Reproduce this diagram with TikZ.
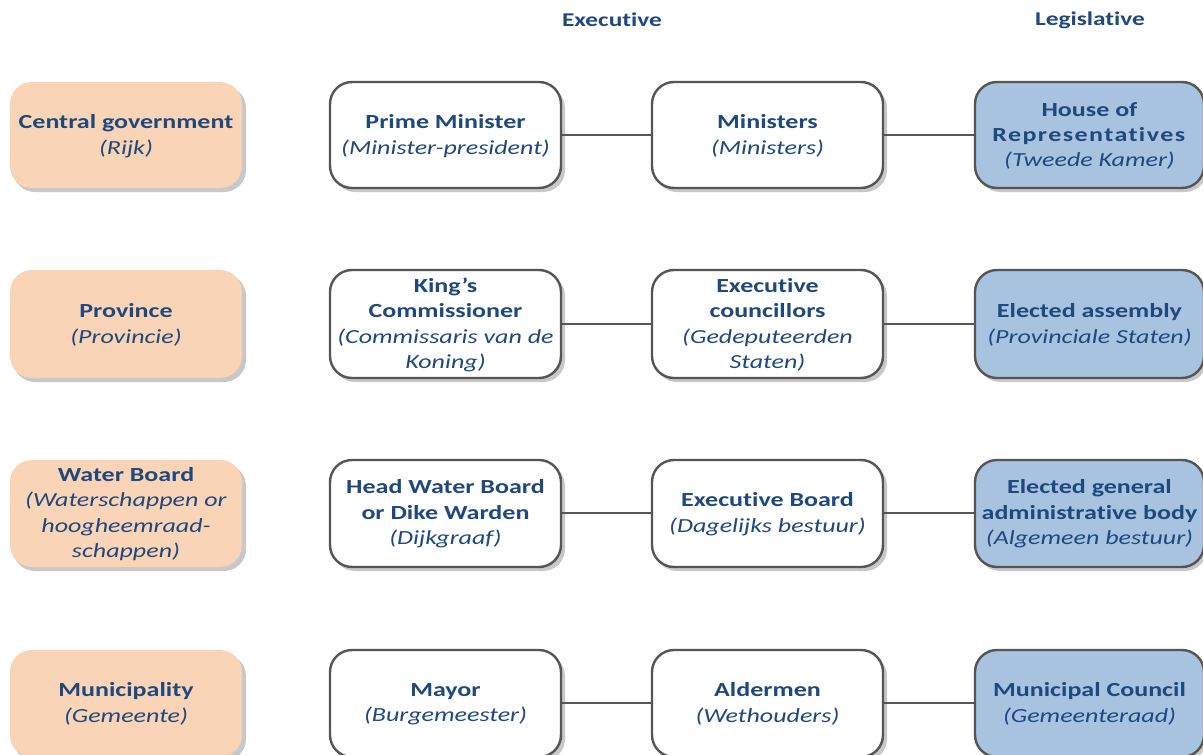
\documentclass[tikz,border=0pt]{standalone}
\usepackage{fontspec}
\setmainfont{Carlito}[Ligatures=NoCommon]
\definecolor{txt}{HTML}{1F497D}
\definecolor{peach}{HTML}{FAD4B6}
\definecolor{lblue}{HTML}{A7C3DF}
\definecolor{bord}{HTML}{555555}
\definecolor{shad}{HTML}{C8C8C8}
\tikzset{
  box/.style={rounded corners=22pt, inner sep=0pt, text=txt, align=center,
    font=\fontsize{20}{25.4}\selectfont},
  lab/.style={box, xscale=1.3, transform shape},
  sh/.style={fill=shad, rounded corners=22pt, draw=none},
  lbox/.style={fill=peach},
  wbox/.style={fill=white, draw=bord, line width=2.4pt},
  bbox/.style={fill=lblue, draw=bord, line width=2.4pt},
  conn/.style={draw=bord, line width=2pt},
  hdr/.style={text=txt, font=\fontsize{19.5}{24}\bfseries\selectfont, xscale=1.3, transform shape}
}
\begin{document}
\begin{tikzpicture}[x=1pt,y=-1pt]
\useasboundingbox (0,0) rectangle (1203,755);
\clip (0,0) rectangle (1203,755);
\node[hdr] (hE) at (612,20) {Executive};
\node[hdr] (hL) at (1090,20) {Legislative};
% shadows
\foreach \t/\b in {82/188,270/378,460/567,650/757}{
  \fill[sh] (13,\t+4) rectangle (246,\b+4);
  \fill[sh] (333,\t+4) rectangle (565,\b+4);
  \fill[sh] (655,\t+4) rectangle (887,\b+4);
  \fill[sh] (978,\t+4) rectangle (1207,\b+4);
}
% boxes
\foreach \t/\b in {82/188,270/378,460/567,650/757}{
  \path[box,lbox] (10,\t) rectangle (242,\b);
  \path[box,wbox] (330,\t) rectangle (561,\b);
  \path[box,wbox] (652,\t) rectangle (883,\b);
  \path[box,bbox] (975,\t) rectangle (1204,\b);
}
% text nodes
\node[lab] (l1) at (126,136) {\textbf{Central government}\\\textit{(Rijk)}};
\node[lab] (l2) at (126,325) {\textbf{Province}\\\textit{(Provincie)}};
\node[lab] (l3) at (126,514) {\textbf{Water Board}\\\textit{(Waterschappen or}\\\textit{hoogheemraad-}\\\textit{schappen)}};
\node[lab] (l4) at (126,704) {\textbf{Municipality}\\\textit{(Gemeente)}};
\node[lab] (a1) at (445.5,136) {\textbf{Prime Minister}\\\textit{(Minister-president)}};
\node[lab] (a2) at (445.5,325) {\textbf{King’s}\\\textbf{Commissioner}\\\textit{(Commissaris van de}\\\textit{Koning)}};
\node[lab] (a3) at (445.5,514) {\textbf{Head Water Board}\\\textbf{or Dike Warden}\\\textit{(Dijkgraaf)}};
\node[lab] (a4) at (445.5,704) {\textbf{Mayor}\\\textit{(Burgemeester)}};
\node[lab] (b1) at (767.5,136) {\textbf{Ministers}\\\textit{(Ministers)}};
\node[lab] (b2) at (767.5,325) {\textbf{Executive}\\\textbf{councillors}\\\textit{(Gedeputeerden}\\\textit{Staten)}};
\node[lab] (b3) at (767.5,514) {\textbf{Executive Board}\\\textit{(Dagelijks bestuur)}};
\node[lab] (b4) at (767.5,704) {\textbf{Aldermen}\\\textit{(Wethouders)}};
\node[lab] (c1) at (1089.5,136) {\textbf{House of}\\{\addfontfeature{LetterSpace=5.5}\textbf{Representatives}}\\\textit{(Tweede Kamer)}};
\node[lab] (c2) at (1089.5,325) {\textbf{Elected assembly}\\\textit{(Provinciale Staten)}};
\node[lab] (c3) at (1089.5,514) {\textbf{Elected general}\\\textbf{administrative body}\\\textit{(Algemeen bestuur)}};
\node[lab] (c4) at (1089.5,704) {\textbf{Municipal Council}\\\textit{(Gemeenteraad)}};
% connectors
\foreach \r/\y in {1/135,2/324,3/513,4/703}{
  \coordinate (p\r) at (561,\y); \coordinate (q\r) at (652,\y);
  \coordinate (s\r) at (883,\y); \coordinate (u\r) at (975,\y);
  \draw[conn] (p\r) -- (q\r);
  \draw[conn] (s\r) -- (u\r);
}
\end{tikzpicture}
\end{document}
